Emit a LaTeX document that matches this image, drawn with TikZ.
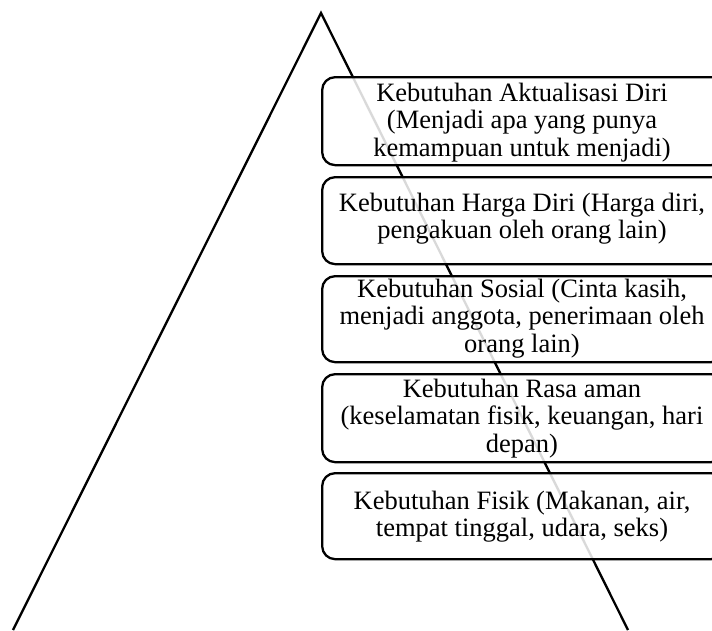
\documentclass[tikz,border=0pt]{standalone}
\usepackage{fontspec}
\setmainfont{Liberation Serif}
\newcommand{\toprule}{\rule{0pt}{20pt}}
\begin{document}
\begin{tikzpicture}[x=1pt,y=-1pt,
  tri/.style={line width=2.3pt,line join=miter},
  lvlbox/.style={draw,line width=2.3pt,rounded corners=13pt,fill=white,fill opacity=0.85,minimum width=402pt,anchor=north west,inner sep=0pt},
  lvltext/.style={align=center,font=\fontsize{26.5}{27.6}\selectfont,inner sep=0pt,anchor=north}]
\useasboundingbox (0,0) rectangle (712,630);
\clip (0,0) rectangle (712,630);
\coordinate (bl) at (13,630);
\coordinate (apex) at (321,13);
\coordinate (br) at (628,630);
\draw[tri] (bl) -- (apex) -- (br);
\node[lvlbox,minimum height=88pt] (b1) at (321,76) {};
\node[lvlbox,minimum height=87pt] (b2) at (321,176) {};
\node[lvlbox,minimum height=86pt] (b3) at (321,275) {};
\node[lvlbox,minimum height=88pt] (b4) at (321,373) {};
\node[lvlbox,minimum height=86pt] (b5) at (321,472) {};
\node[lvltext] (t1) at (522,81) {\toprule Kebutuhan Aktualisasi Diri\\(Menjadi apa yang punya\\kemampuan untuk menjadi)};
\node[lvltext] (t2) at (522,191) {\toprule Kebutuhan Harga Diri (Harga diri,\\pengakuan oleh orang lain)};
\node[lvltext] (t3) at (522,277) {\toprule Kebutuhan Sosial (Cinta kasih,\\menjadi anggota, penerimaan oleh\\orang lain)};
\node[lvltext] (t4) at (522,377) {\toprule Kebutuhan Rasa aman\\(keselamatan fisik, keuangan, hari\\depan)};
\node[lvltext] (t5) at (522,489) {\toprule Kebutuhan Fisik (Makanan, air,\\tempat tinggal, udara, seks)};
\end{tikzpicture}
\end{document}
